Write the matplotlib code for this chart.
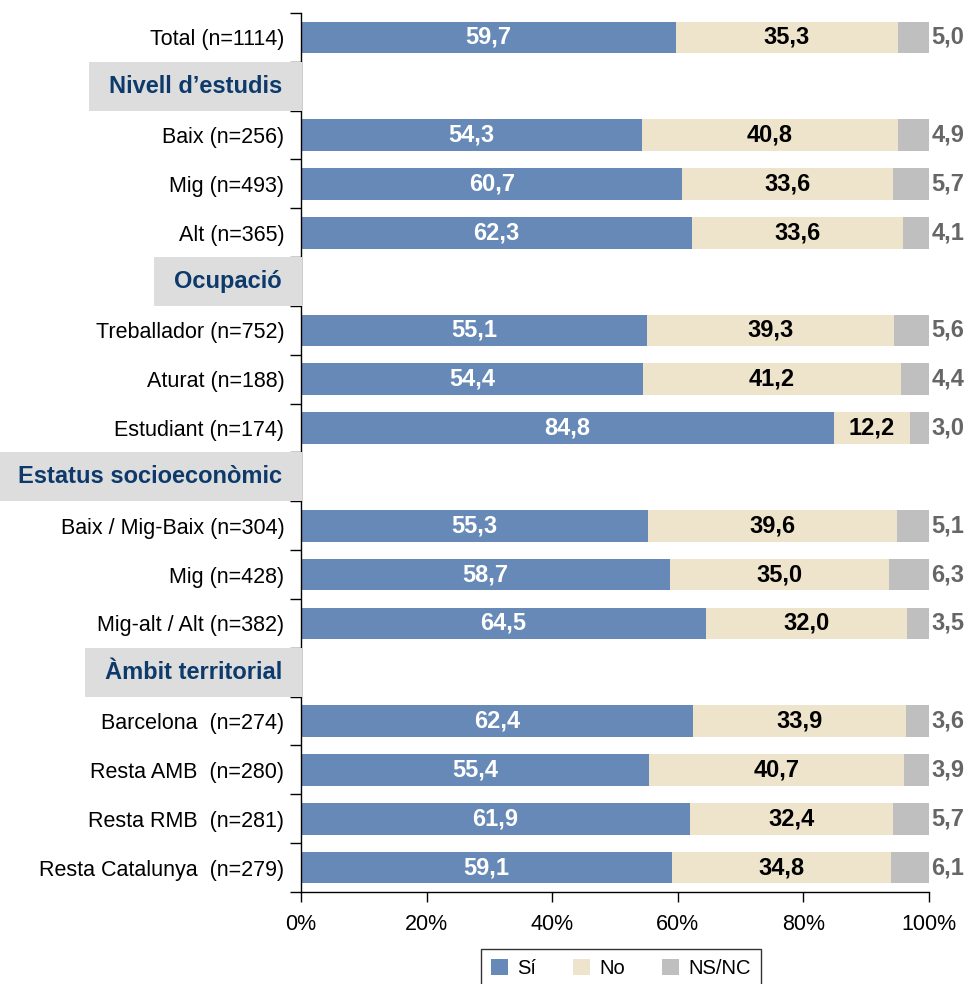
import matplotlib
matplotlib.use("Agg")
import matplotlib.pyplot as plt
import matplotlib.transforms as mtransforms
from matplotlib.patches import Rectangle, Patch
import numpy as np

plt.rcParams['font.family'] = ['Liberation Sans', 'DejaVu Sans']

# rows from top to bottom; headers have no values
labels = ['Total (n=1114)', 'Nivell d\u2019estudis', 'Baix (n=256)', 'Mig (n=493)', 'Alt (n=365)',
          'Ocupació', 'Treballador (n=752)', 'Aturat (n=188)', 'Estudiant (n=174)',
          'Estatus socioeconòmic', 'Baix / Mig-Baix (n=304)', 'Mig (n=428)', 'Mig-alt / Alt (n=382)',
          'Àmbit territorial', 'Barcelona  (n=274)', 'Resta AMB  (n=280)', 'Resta RMB  (n=281)',
          'Resta Catalunya  (n=279)']
is_header = [False, True, False, False, False, True, False, False, False,
             True, False, False, False, True, False, False, False, False]
si = [59.7, None, 54.3, 60.7, 62.3, None, 55.1, 54.4, 84.8,
      None, 55.3, 58.7, 64.5, None, 62.4, 55.4, 61.9, 59.1]
no = [35.3, None, 40.8, 33.6, 33.6, None, 39.3, 41.2, 12.2,
      None, 39.6, 35.0, 32.0, None, 33.9, 40.7, 32.4, 34.8]
nsnc = [5.0, None, 4.9, 5.7, 4.1, None, 5.6, 4.4, 3.0,
        None, 5.1, 6.3, 3.5, None, 3.6, 3.9, 5.7, 6.1]
series_names = ['Sí', 'No', 'NS/NC']
xticks = [0, 20, 40, 60, 80, 100]

c_si = '#6689B7'
c_no = '#EEE4CB'
c_ns = '#BFBFBF'

fs = 15.5      # regular text
fsb = 17       # bold text

fig = plt.figure(figsize=(9.68, 9.84), dpi=100)
ax = fig.add_axes([0.311, 0.0935, 0.6487, 0.8933])

n = len(labels)
y = np.arange(n)
bh = 0.65

def fmt(v):
    return f'{v:.1f}'.replace('.', ',')

for i in range(n):
    if is_header[i]:
        continue
    a, b, c = si[i], no[i], nsnc[i]
    tot = a + b + c
    a, b, c = a / tot * 100, b / tot * 100, c / tot * 100
    ax.barh(y[i], a, height=bh, color=c_si, zorder=2)
    ax.barh(y[i], b, left=a, height=bh, color=c_no, zorder=2)
    ax.barh(y[i], c, left=a + b, height=bh, color=c_ns, zorder=2)
    ax.text(a / 2, y[i], fmt(si[i]), ha='center', va='center', color='white',
            fontsize=fsb, fontweight='bold', zorder=4)
    ax.text(a + b / 2, y[i], fmt(no[i]), ha='center', va='center', color='black',
            fontsize=fsb, fontweight='bold', zorder=4)
    ax.text(100.4, y[i], fmt(nsnc[i]), ha='left', va='center', color='#666666',
            fontsize=fsb, fontweight='bold', zorder=4, clip_on=False)

ax.set_xlim(0, 100)
ax.set_ylim(n - 0.5, -0.5)
ax.set_xticks(xticks)
ax.set_xticklabels([f'{t}%' for t in xticks], fontsize=fs)
ax.tick_params(axis='x', direction='out', length=7, width=1, pad=9)

ax.set_yticks(y)
ax.set_yticklabels([l if not h else '' for l, h in zip(labels, is_header)], fontsize=fs)
ax.set_yticks(np.arange(-0.5, n, 1), minor=True)
ax.tick_params(axis='y', which='major', length=0, pad=12)
ax.tick_params(axis='y', which='minor', direction='out', length=8, width=1)

for s in ['top', 'right']:
    ax.spines[s].set_visible(False)
for s in ['left', 'bottom']:
    ax.spines[s].set_linewidth(1)

# header labels with grey boxes over the axis
trans = mtransforms.blended_transform_factory(ax.transAxes, ax.transData)
header_texts = []
for i in range(n):
    if is_header[i]:
        t = ax.text(-0.0305, y[i], labels[i], transform=trans, ha='right', va='center',
                    fontsize=fsb, fontweight='bold', color='#0D3A6B', zorder=6, clip_on=False)
        header_texts.append((i, t))

fig.canvas.draw()
r = fig.canvas.get_renderer()
ax_bb = ax.get_window_extent()
for i, t in header_texts:
    bb = t.get_window_extent(renderer=r)
    x0 = (bb.x0 - ax_bb.x0 - 20) / ax_bb.width
    x1 = 0.0018
    rect = Rectangle((x0, y[i] - 0.5), x1 - x0, 1.0, transform=trans, facecolor='#DDDDDD',
                     edgecolor='none', zorder=5, clip_on=False)
    ax.add_patch(rect)

handles = [Patch(facecolor=c_si), Patch(facecolor=c_no), Patch(facecolor=c_ns)]
leg = fig.legend(handles, series_names, loc='upper center', bbox_to_anchor=(0.6415, 0.0355),
                 ncol=3, fontsize=14.5, frameon=True, fancybox=False, edgecolor='black',
                 handlelength=0.85, handleheight=0.85, handletextpad=0.45, columnspacing=1.85,
                 borderpad=0.5, borderaxespad=0)
leg.get_frame().set_linewidth(1)

fig.savefig('out.png', dpi=100)
